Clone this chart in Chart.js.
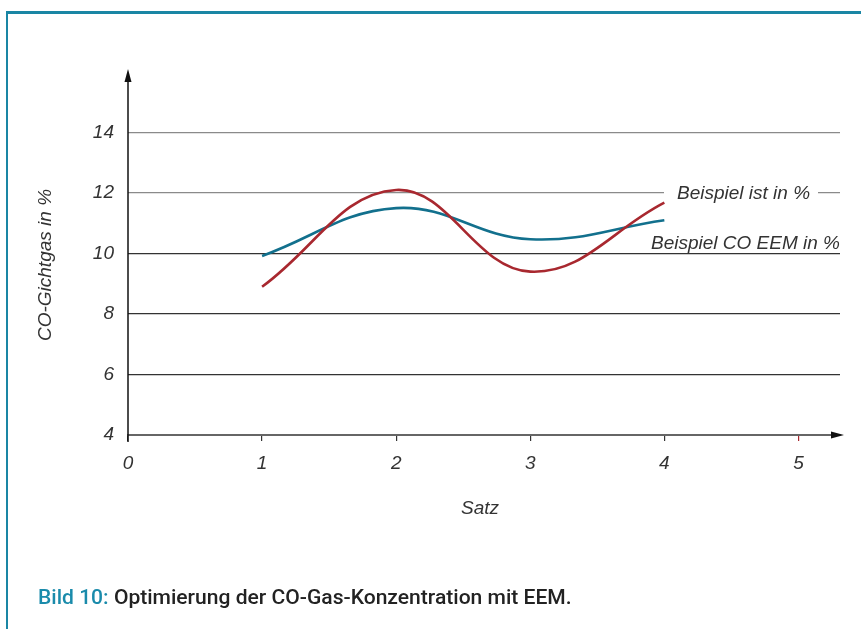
<!DOCTYPE html>
<html lang="de">
<head>
    <meta charset="UTF-8">
    <title>Bild 10: Optimierung der CO-Gas-Konzentration mit EEM</title>
    <script src="https://cdn.jsdelivr.net/npm/chart.js"></script>
    <style>
        body { margin: 0; background: #fff; }
        #wrap {
            position: relative;
            width: 861px;
            height: 629px;
            overflow: hidden;
        }
        #frame {
            position: absolute;
            left: 6px;
            top: 11px;
            width: 900px;
            height: 700px;
            border-top: 3px solid #1a86a4;
            border-left: 2px solid #1a86a4;
        }
        #chart { position: absolute; left: 0; top: 0; }
        #caption {
            position: absolute;
            left: 38px;
            top: 585px;
            font-family: Roboto, "Liberation Sans", sans-serif;
            font-weight: 500;
            font-size: 20px;
            color: #222;
            white-space: nowrap;
            transform-origin: 0 0;
        }
        #caption span { color: #1a8bab; }
    </style>
</head>
<body>
    <div id="wrap">
        <div id="frame"></div>
        <canvas id="chart" width="861" height="629"></canvas>
        <div id="caption"><span>Bild 10:</span> Optimierung der CO-Gas-Konzentration mit EEM.</div>
    </div>

    <script>
        // Werte
        var satz = [1, 2, 3, 4];
        var istWerte = [8.9, 12.1, 9.4, 11.68];
        var eemWerte = [9.92, 11.5, 10.47, 11.1];
        var xTicks = [0, 1, 2, 3, 4, 5];
        var yTicks = [4, 6, 8, 10, 12, 14];

        var rot = '#a8282f';
        var blau = '#12708d';
        var labelFont = 'italic 19px "Liberation Sans", Arial, sans-serif';
        var tickFont = { family: '"Liberation Sans", Arial, sans-serif', size: 19, style: 'italic' };

        // caption auf Originalbreite bringen
        var cap = document.getElementById('caption');
        cap.style.transform = 'scaleX(' + (534 / cap.offsetWidth) + ')';

        var extras = {
            id: 'extras',
            afterDraw: function(chart) {
                var ctx = chart.ctx;
                var xs = chart.scales.x, ys = chart.scales.y;
                var left = chart.chartArea.left, right = chart.chartArea.right;
                var top = chart.chartArea.top, bottom = chart.chartArea.bottom;
                ctx.save();

                // Lücke in der 12er Linie für die Beschriftung
                var y12 = ys.getPixelForValue(12);
                ctx.fillStyle = '#fff';
                ctx.fillRect(664, y12 - 3, 154, 6);

                // y-Achse mit Pfeil
                ctx.strokeStyle = '#111';
                ctx.lineWidth = 1.5;
                ctx.beginPath();
                ctx.moveTo(left, bottom + 7);
                ctx.lineTo(left, top + 4);
                ctx.stroke();
                ctx.fillStyle = '#111';
                ctx.beginPath();
                ctx.moveTo(left, top - 3);
                ctx.lineTo(left - 3.5, top + 10);
                ctx.lineTo(left + 3.5, top + 10);
                ctx.closePath();
                ctx.fill();

                // x-Achse Pfeil
                ctx.beginPath();
                ctx.moveTo(right + 4, bottom);
                ctx.lineTo(right - 9, bottom - 3.5);
                ctx.lineTo(right - 9, bottom + 3.5);
                ctx.closePath();
                ctx.fill();

                // Achsentitel
                ctx.fillStyle = '#333';
                ctx.font = labelFont;
                ctx.textAlign = 'center';
                ctx.textBaseline = 'middle';
                ctx.fillText('Satz', (left + right) / 2 - 4, 509);
                ctx.save();
                ctx.translate(46, 265);
                ctx.rotate(-Math.PI / 2);
                ctx.fillText('CO-Gichtgas in %', 0, 0);
                ctx.restore();

                // Linienbeschriftungen
                ctx.textAlign = 'left';
                ctx.textBaseline = 'alphabetic';
                ctx.fillText('Beispiel ist in %', 677, y12 + 6);
                ctx.fillText('Beispiel CO EEM in %', 651, ys.getPixelForValue(10) - 5);
                ctx.restore();
            }
        };

        var ctx = document.getElementById('chart').getContext('2d');
        var chart = new Chart(ctx, {
            type: 'line',
            data: {
                datasets: [{
                    label: 'Beispiel ist in %',
                    data: satz.map((x, i) => ({ x: x, y: istWerte[i] })),
                    borderColor: rot,
                    borderWidth: 2.6,
                    pointRadius: 0,
                    tension: 0.4,
                    fill: false
                }, {
                    label: 'Beispiel CO EEM in %',
                    data: satz.map((x, i) => ({ x: x, y: eemWerte[i] })),
                    borderColor: blau,
                    borderWidth: 2.6,
                    pointRadius: 0,
                    tension: 0.4,
                    fill: false
                }]
            },
            options: {
                responsive: false,
                animation: false,
                layout: { padding: { left: 0, right: 21, top: 72, bottom: 0 } },
                plugins: {
                    legend: { display: false },
                    tooltip: { enabled: false }
                },
                scales: {
                    x: {
                        type: 'linear',
                        min: 0,
                        max: 5.31,
                        afterFit: function(s) { s.height = 194; },
                        afterBuildTicks: function(s) { s.ticks = xTicks.map(v => ({ value: v })); },
                        border: { display: true, color: '#666', width: 2 },
                        grid: {
                            drawOnChartArea: false,
                            drawTicks: true,
                            tickLength: 6,
                            lineWidth: 1.2,
                            color: function(c) { return c.tick && c.tick.value === 5 ? rot : '#333'; }
                        },
                        ticks: {
                            padding: 11,
                            color: '#333',
                            font: tickFont
                        }
                    },
                    y: {
                        min: 4,
                        max: 16,
                        afterFit: function(s) { s.width = 128; },
                        afterBuildTicks: function(s) { s.ticks = yTicks.map(v => ({ value: v })); },
                        border: { display: false },
                        grid: {
                            drawTicks: false,
                            lineWidth: function(c) { return c.tick && c.tick.value === 4 ? 0 : 1.3; },
                            color: function(c) { return c.tick && c.tick.value >= 12 ? '#8a8a8a' : '#333'; }
                        },
                        ticks: {
                            padding: 14,
                            color: '#333',
                            font: tickFont
                        }
                    }
                }
            },
            plugins: [extras]
        });
    </script>
</body>
</html>
